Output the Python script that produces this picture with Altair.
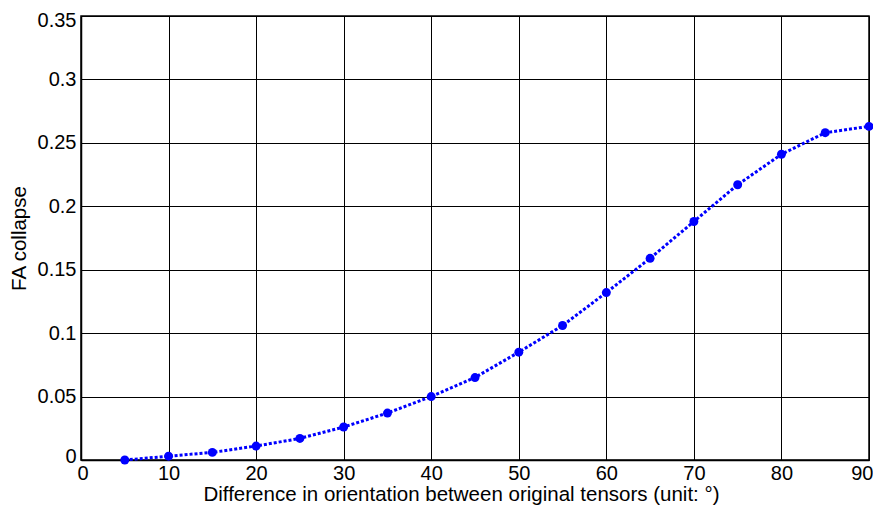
import altair as alt
import pandas as pd

angles = [5, 10, 15, 20, 25, 30, 35, 40, 45, 50, 55, 60, 65, 70, 75, 80, 85, 90]
fa_collapse = [0.000, 0.003, 0.006, 0.011, 0.017, 0.026, 0.037, 0.050, 0.065, 0.085,
               0.106, 0.132, 0.159, 0.188, 0.217, 0.241, 0.258, 0.263]
x_ticks = [0, 10, 20, 30, 40, 50, 60, 70, 80, 90]
y_ticks = [0, 0.05, 0.1, 0.15, 0.2, 0.25, 0.3, 0.35]

df = pd.DataFrame({"x": angles, "y": fa_collapse})

FONT = "Liberation Sans"

x_enc = alt.X("x:Q", scale=alt.Scale(domain=[0, 90], nice=False),
              axis=alt.Axis(values=x_ticks, title="Difference in orientation between original tensors (unit: °)",
                            grid=True, gridColor="black", gridWidth=1, gridOpacity=1,
                            domainColor="black", domainWidth=1.5, ticks=False,
                            labelFont=FONT, labelFontSize=20, labelColor="black", labelPadding=3,
                            labelFlush=True, labelFlushOffset=4,
                            titleFont=FONT, titleFontSize=20.5, titleFontWeight="normal", titleColor="black",
                            titlePadding=1, titleX=380, titleAlign="center"))
y_enc = alt.Y("y:Q", scale=alt.Scale(domain=[0, 0.35], nice=False),
              axis=alt.Axis(values=y_ticks, format=".2~f", title="FA collapse",
                            grid=True, gridColor="black", gridWidth=1, gridOpacity=1,
                            domainColor="black", domainWidth=1.5, ticks=False,
                            labelFont=FONT, labelFontSize=20, labelColor="black", labelPadding=5,
                            labelFlush=True, labelFlushOffset=6,
                            titleFont=FONT, titleFontSize=20.5, titleFontWeight="normal", titleColor="black",
                            titlePadding=8))

line = alt.Chart(df).mark_line(color="#0000ff", strokeWidth=3, strokeDash=[3, 2]).encode(x=x_enc, y=y_enc)
pts = alt.Chart(df).mark_point(color="#0000ff", filled=True, opacity=1, size=80, shape="circle").encode(x="x:Q", y="y:Q")

chart = (line + pts).properties(
    width=788, height=444,
    autosize=alt.AutoSizeParams(type="none"),
    padding={"left": 73, "top": 8, "right": 4, "bottom": 46},
    background="white",
).configure_view(stroke="black", strokeWidth=1.5)

chart.save("out.html", embed_options={"renderer": "svg", "actions": False})
